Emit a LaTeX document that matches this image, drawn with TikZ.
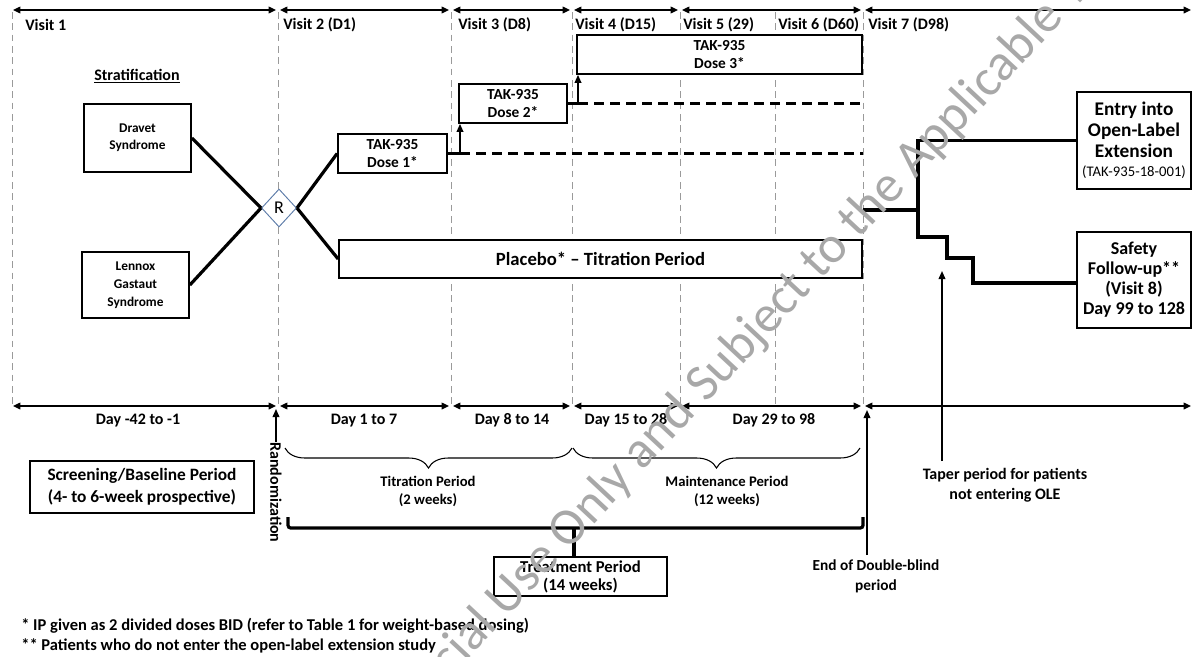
\documentclass[tikz,border=0pt]{standalone}
\usepackage{fontspec}
\setmainfont{Carlito}
\usetikzlibrary{arrows.meta,shapes.geometric,decorations.pathreplacing,calc}
\definecolor{diamc}{HTML}{5C7BA8}
\definecolor{gridc}{HTML}{9A9A9A}
\definecolor{wmark}{HTML}{A8A8A8}
\newcommand{\myfs}[2]{\fontsize{#1}{#2}\selectfont}
\begin{document}
\begin{tikzpicture}[x=0.75pt,y=-0.75pt,
  box/.style={draw=black,line width=1.3pt,fill=white,align=center,inner sep=0pt},
  gridline/.style={draw=gridc,line width=0.75pt,dash pattern=on 5pt off 3.5pt},
  timeline/.style={line width=1.0pt,{Triangle[length=5.5pt,width=5pt]}-{Triangle[length=5.5pt,width=5pt]}},
  heavy/.style={line width=2.4pt,line join=miter},
  heavydash/.style={line width=2.4pt,dash pattern=on 7.5pt off 4.5pt},
  uparrow/.style={line width=1.1pt,-{Triangle[length=6pt,width=5pt]}},
  lbl/.style={align=center,inner sep=0pt},
  bracedeco/.style={decorate,decoration={brace,mirror,amplitude=15pt},line width=0.8pt},
  wm/.style={inner sep=0pt,text=wmark,font=\myfs{39}{44}}
]
\useasboundingbox (0,0) rectangle (1193,657);

% vertical dashed grid lines
\foreach \gx in {12,278,451,572,680,775,863}
  \draw[gridline] (\gx,12) -- (\gx,404);

% top and bottom time lines
\foreach \ya in {10,406}{
  \draw[timeline] (13,\ya) -- (276,\ya);
  \draw[timeline] (280,\ya) -- (449,\ya);
  \draw[timeline] (453,\ya) -- (570,\ya);
  \draw[timeline] (574,\ya) -- (678,\ya);
  \draw[timeline] (682,\ya) -- (861,\ya);
  \draw[timeline] (865,\ya) -- (1191,\ya);
}

% visit labels
\begin{scope}[every node/.style={lbl,anchor=west,font=\bfseries\myfs{12}{14}}]
\node (v1) at (25,25) {Visit 1};
\node (v2) at (283,25) {Visit 2 (D1)};
\node (v3) at (458,25) {Visit 3 (D8)};
\node (v4) at (575,25) {Visit 4 (D15)};
\node (v5) at (683,25) {Visit 5 (29)};
\node (v6) at (778,25) {Visit 6 (D60)};
\node (v7) at (868,25) {Visit 7 (D98)};
\end{scope}

% day labels
\begin{scope}[every node/.style={lbl,anchor=base,font=\bfseries\myfs{12}{14}}]
\node (d0) at (138,424) {Day -42 to -1};
\node (d1) at (364,424) {Day 1 to 7};
\node (d2) at (512,424) {Day 8 to 14};
\node (d3) at (626,424) {Day 15 to 28};
\node (d4) at (774,424) {Day 29 to 98};
\end{scope}

\node[lbl,font=\bfseries\myfs{12}{14}] (strat) at (137,76) {\underline{Stratification}};

% boxes
\node[box,minimum width=80.25pt,minimum height=51pt,font=\bfseries\myfs{10}{13}] (dravet) at (137.5,138) {Dravet\\Syndrome};
\node[box,minimum width=80.25pt,minimum height=49.5pt,font=\bfseries\myfs{10}{13.5}] (lennox) at (135.5,285) {Lennox\\Gastaut\\Syndrome};
\node[diamond,draw=diamc,line width=0.7pt,fill=white,minimum width=26.25pt,minimum height=28.5pt,inner sep=0pt,font=\myfs{13.5}{14}] (R) at (279,208) {R};
\node[box,minimum width=81.75pt,minimum height=29.25pt,font=\bfseries\myfs{11.5}{13}] (dose1) at (392.5,153.5) {TAK-935\\Dose 1*};
\node[box,minimum width=81pt,minimum height=29.25pt,font=\bfseries\myfs{11.5}{13}] (dose2) at (513,103.5) {TAK-935\\Dose 2*};
\node[box,minimum width=213.75pt,minimum height=29.25pt,font=\bfseries\myfs{11.5}{13}] (dose3) at (719.5,54.5) {TAK-935\\Dose 3*};
\node[box,minimum width=392.25pt,minimum height=28.5pt,font=\bfseries\myfs{14}{16}] (placebo) at (600.5,259) {Placebo* -- Titration Period};
\node[box,minimum width=85.5pt,minimum height=72.75pt,font=\bfseries\myfs{14.5}{15.5}] (ole) at (1134,140.5) {Entry into\\Open-Label\\Extension\\[-1pt]{\mdseries\myfs{11}{12}(TAK-935-18-001)}};
\node[box,minimum width=85.5pt,minimum height=72pt,font=\bfseries\myfs{13.5}{15}] (safety) at (1134,280) {Safety\\Follow-up**\\(Visit 8)\\Day 99 to 128};
\node[box,minimum width=168pt,minimum height=39pt,font=\bfseries\myfs{13}{16.5}] (screen) at (142,487) {Screening/Baseline Period\\(4- to 6-week prospective)};
\node[box,minimum width=129.75pt,minimum height=29.25pt,font=\bfseries\myfs{12.5}{13.5}] (treat) at (580.5,576.5) {Treatment Period\\(14 weeks)};

% randomization connectors
\draw[heavy] (dravet.east) -- (R.west);
\draw[heavy] (lennox.east) -- (R.west);
\draw[heavy] (R.east) -- (dose1.west);
\draw[heavy] (R.east) -- (placebo.west);

% dose escalation
\coordinate (j1) at (460,153.5);
\coordinate (j2) at (578,103.5);
\coordinate (dashend1) at (863,153.5);
\coordinate (dashend2) at (863,103.5);
\draw[heavy] (dose1.east) -- (j1);
\draw[uparrow] (j1) -- (j1 |- dose2.south);
\draw[heavydash] (j1) -- (dashend1);
\draw[heavy] (dose2.east) -- (j2);
\draw[uparrow] (j2) -- (j2 |- dose3.south);
\draw[heavydash] (j2) -- (dashend2);

% after double-blind period
\coordinate (dbend) at (863,210);
\coordinate (split) at (918,210);
\draw[heavy] (dbend) -- (split);
\draw[heavy] (split) -- (split |- ole.west) -- (ole.west);
\draw[heavy] (split) -- (918,237) -- (947,237) -- (947,258) -- (973,258) -- (973,283) -- (973,283 -| safety.west);

% taper label
\node[lbl,font=\bfseries\myfs{12}{15}] (taper) at (1005,485) {Taper period for patients\\not entering OLE};
\coordinate (taperbase) at (942,461);
\coordinate (tapertip) at (942,271);
\draw[uparrow] (taperbase) -- (tapertip);

% randomization arrow
\node[lbl,rotate=-90,font=\bfseries\myfs{12}{14}] (rand) at (276,492.5) {Randomization};
\coordinate (randtip) at (276,409);
\draw[uparrow] (rand.west) -- (randtip);

% end of double blind
\node[lbl,font=\bfseries\myfs{11.5}{15}] (eodb) at (876,576) {End of Double-blind\\period};
\coordinate (eodbtip) at (867,410);
\coordinate (eodbbase) at (867,555);
\draw[uparrow] (eodbbase) -- (eodbtip);

% braces
\draw[bracedeco] (285,448) -- (572,448);
\draw[bracedeco] (573,448) -- (860,448);
\node[lbl,font=\bfseries\myfs{11}{13.5}] (titr) at (428,491) {Titration Period\\(2 weeks)};
\node[lbl,font=\bfseries\myfs{11}{13.5}] (maint) at (727,491) {Maintenance Period\\(12 weeks)};

% treatment bracket
\draw[heavy,rounded corners=2pt] (288,517) -- (288,528) -- (863,528) -- (863,517);
\draw[heavy] (574,528) -- (574,528 |- treat.north);

% footnotes
\node[lbl,anchor=base west,font=\bfseries\myfs{12.4}{14}] (fn1) at (21,630) {* IP given as 2 divided doses BID (refer to Table 1 for weight-based dosing)};
\node[lbl,anchor=base west,font=\bfseries\myfs{12.4}{14}] (fn2) at (21,650) {** Patients who do not enter the open-label extension study};

% watermark
\begin{scope}
\clip (0,0) rectangle (1193,657);
\node[wm,anchor=base west,rotate=47] (wm1) at (706,404) {Subject to the Applicable Terms of Use};
\node[wm,anchor=base east,rotate=47] (wm2) at (706,404) {For Non-Commercial Use Only and\kern0.24em};
\end{scope}
\end{tikzpicture}
\end{document}
